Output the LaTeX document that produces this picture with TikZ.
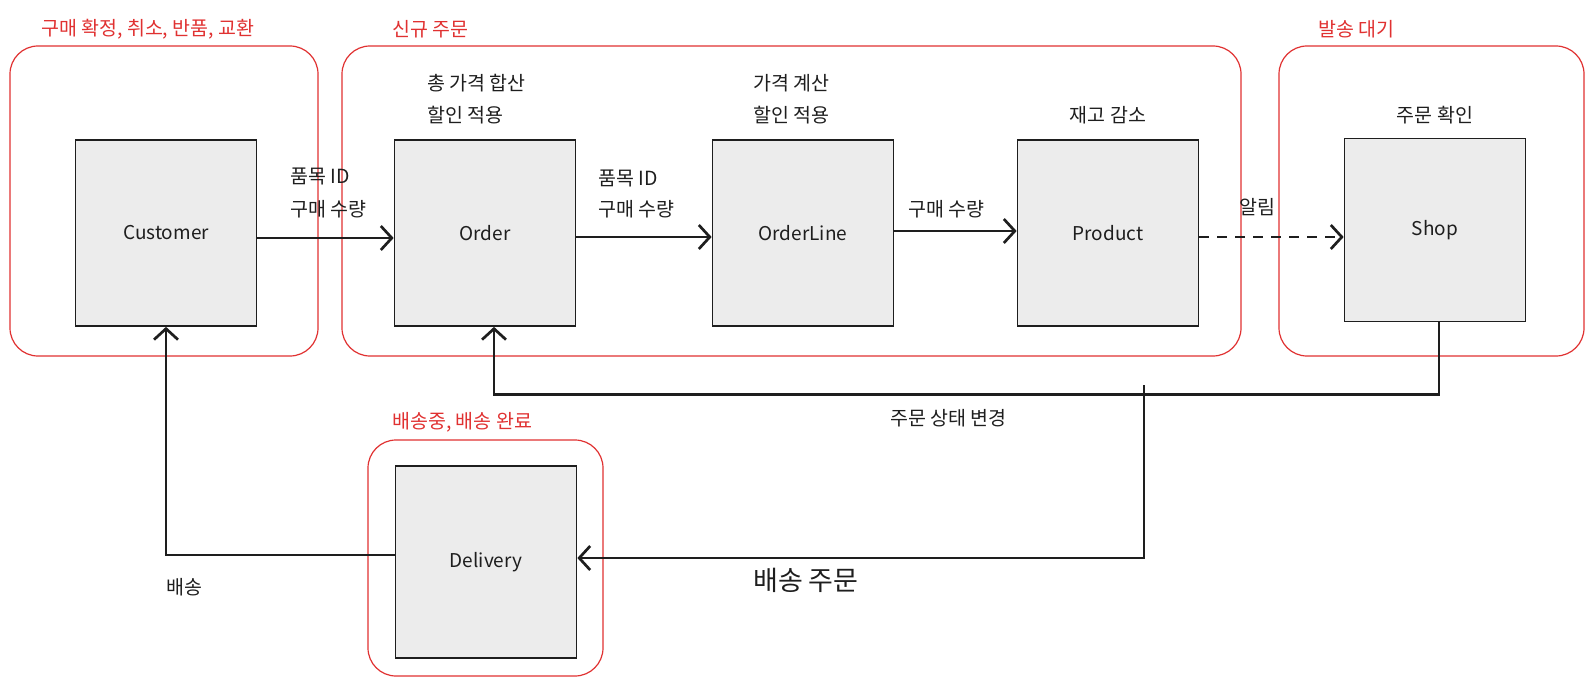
\documentclass[tikz,border=0pt]{standalone}
\usepackage{fontspec}
\setmainfont{Noto Sans CJK KR}
\usetikzlibrary{arrows.meta}
\definecolor{ink}{HTML}{1E1E1E}
\definecolor{boxfill}{HTML}{ECECEC}
\definecolor{grpred}{HTML}{E03131}
\begin{document}
\begin{tikzpicture}[x=1pt,y=-1pt,
  entity/.style={draw=ink, fill=boxfill, line width=1.7pt, minimum width=181pt, minimum height=186pt, inner sep=0pt, font=\fontsize{19}{22}\selectfont, text=ink},
  grp/.style={draw=grpred, line width=1.2pt, rounded corners=28pt},
  grptitle/.style={anchor=west, text=grpred, font=\fontsize{19.5}{22}\selectfont, inner sep=0pt},
  lbl/.style={anchor=west, text=ink, font=\fontsize{19.5}{22}\selectfont, inner sep=0pt},
  conn/.style={draw=ink, line width=2.7pt, -{Straight Barb[length=11pt,width=24pt,line width=2.7pt]}},
  thinconn/.style={conn, line width=2.3pt},
  dconn/.style={conn, dash pattern=on 10pt off 8pt}
]
\useasboundingbox (0,0) rectangle (1595,687);
% groups
\draw[grp] (10,46) rectangle (318,356);
\draw[grp] (342,46) rectangle (1241,356);
\draw[grp] (1279,46) rectangle (1584,356);
\draw[grp] (368,440) rectangle (603,676);
\node[grptitle] (t1) at (41,29) {구매 확정, 취소, 반품, 교환};
\node[grptitle] (t2) at (392,29) {신규 주문};
\node[grptitle] (t3) at (1318,29) {발송 대기};
\node[grptitle] (t4) at (392,422) {배송중, 배송 완료};
% entities
\node[entity] (Customer) at (166,233) {Customer};
\node[entity] (Order) at (485,233) {Order};
\node[entity] (OrderLine) at (803,233) {OrderLine};
\node[entity] (Product) at (1108,233) {Product};
\node[entity, minimum height=183pt] (Shop) at (1435,230) {Shop};
\node[entity, minimum height=192pt] (Delivery) at (486,562) {Delivery};
% labels
\node[lbl] (l1) at (427,83) {총 가격 합산};
\node[lbl] (l2) at (427,115) {할인 적용};
\node[lbl] (l3) at (290,176) {품목 ID};
\node[lbl] (l4) at (290,209) {구매 수량};
\node[lbl] (l5) at (598,178) {품목 ID};
\node[lbl] (l6) at (598,209) {구매 수량};
\node[lbl] (l7) at (753,83) {가격 계산};
\node[lbl] (l8) at (753,115) {할인 적용};
\node[lbl, anchor=center] (l9) at (1108,115) {재고 감소};
\node[lbl] (l10) at (908,209) {구매 수량};
\node[lbl] (l11) at (1239,207) {알림};
\node[lbl, anchor=center] (l12) at (1435,115) {주문 확인};
\node[lbl] (l13) at (890,418) {주문 상태 변경};
\node[lbl, font=\fontsize{27}{31}\selectfont] (l14) at (753,580) {배송 주문};
\node[lbl] (l15) at (166,587) {배송};
% connectors
\draw[conn] ([yshift=-5pt]Customer.east) -- ([yshift=-5pt]Customer.east -| Order.west);
\draw[conn] ([yshift=-4pt]Order.east) -- ([yshift=-4pt]Order.east -| OrderLine.west);
\draw[conn] ([yshift=2pt]OrderLine.east) -- ([yshift=2pt]OrderLine.east -| Product.west);
\draw[dconn] ([yshift=-4pt]Product.east) -- ([yshift=-4pt]Product.east -| Shop.west);
\draw[thinconn] ([xshift=4pt]Shop.south) -- ++(0,72) -| ([xshift=9pt]Order.south);
\coordinate (split) at (1144,385);
\draw[thinconn] (split) |- ([yshift=4pt]Delivery.east);
\draw[thinconn] ([yshift=7pt]Delivery.west) -| (Customer.south);
\end{tikzpicture}
\end{document}
